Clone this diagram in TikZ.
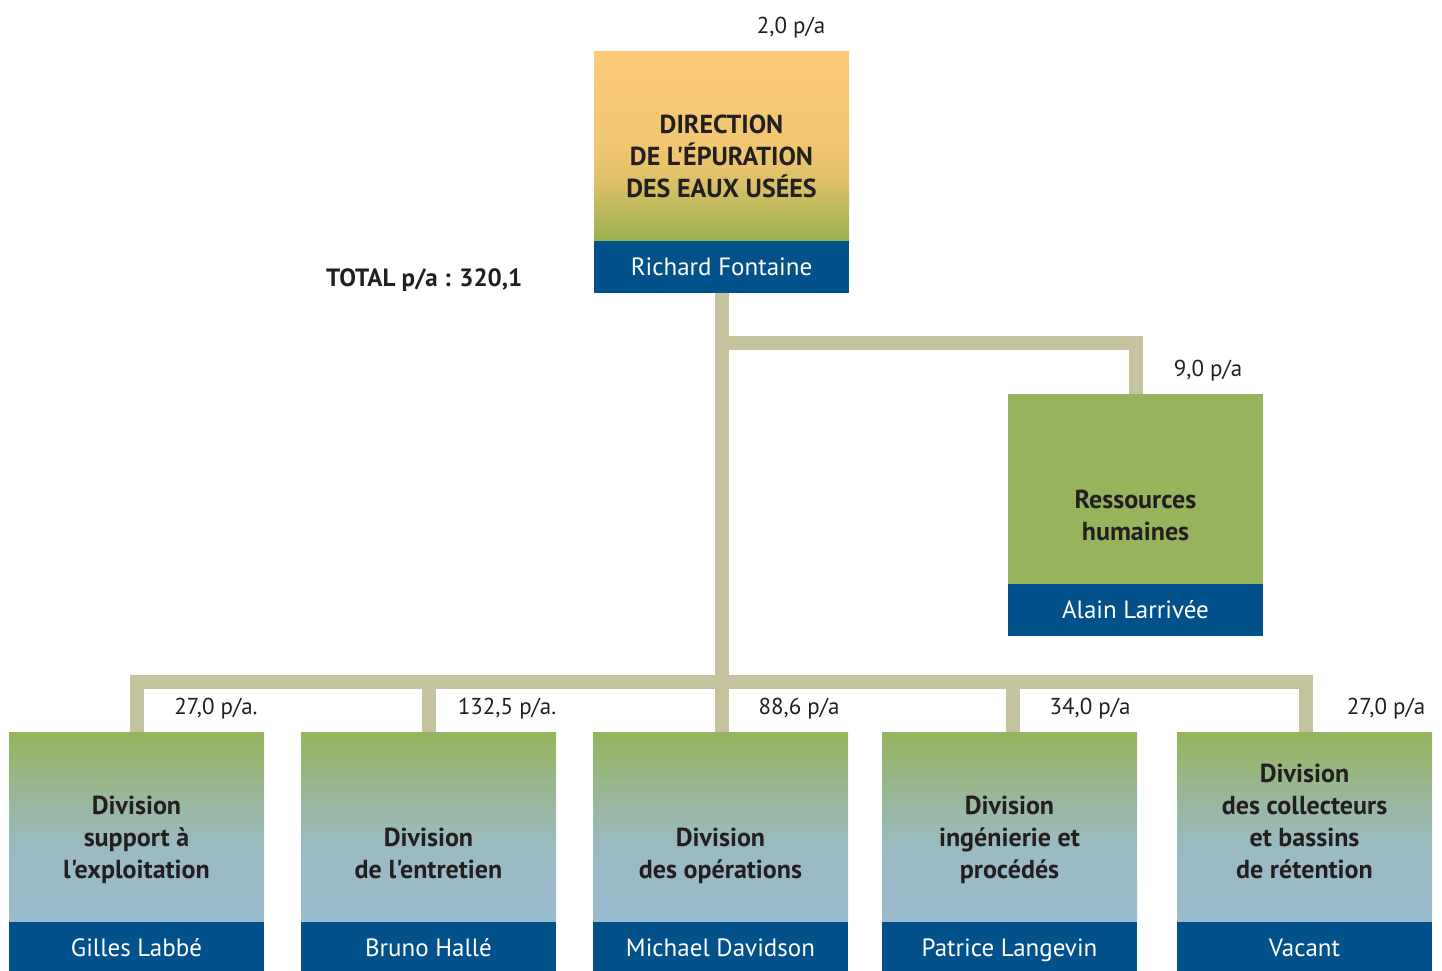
\documentclass[tikz,border=0pt]{standalone}
\usepackage{fontspec}
\setmainfont{PT Sans}[Ligatures=TeXOff]
\definecolor{bandblue}{HTML}{02518B}
\definecolor{conncol}{HTML}{C5C29E}
\definecolor{textdark}{HTML}{231F20}
\definecolor{hrgreen}{HTML}{97B35C}
\definecolor{dA}{HTML}{98B04E}
\definecolor{dB}{HTML}{B8B75A}
\definecolor{dC}{HTML}{D9BF66}
\definecolor{dD}{HTML}{F0C670}
\definecolor{dE}{HTML}{FCCA77}
\definecolor{bA}{HTML}{9BBBD0}
\definecolor{bB}{HTML}{9ABAC2}
\definecolor{bC}{HTML}{99B8A4}
\definecolor{bD}{HTML}{97B67F}
\definecolor{bE}{HTML}{96B45D}
\pgfdeclareverticalshading{dirshade}{100bp}{color(0bp)=(dA); color(25bp)=(dA); color(31.8bp)=(dB); color(39.7bp)=(dC); color(49bp)=(dD); color(75bp)=(dE); color(100bp)=(dE)}
\pgfdeclareverticalshading{divshade}{100bp}{color(0bp)=(bA); color(25bp)=(bA); color(45bp)=(bB); color(55bp)=(bC); color(65bp)=(bD); color(75bp)=(bE); color(100bp)=(bE)}
\tikzset{
  conn/.style={draw=conncol, line width=14pt},
  upper/.style={minimum width=255pt, minimum height=190pt, inner sep=0pt, outer sep=0pt, anchor=north west},
  dirbox/.style={upper, shading=dirshade},
  hrbox/.style={upper, fill=hrgreen},
  divbox/.style={upper, shading=divshade},
  band/.style={fill=bandblue, minimum width=255pt, minimum height=52pt, inner sep=0pt, outer sep=0pt, anchor=north, text=white, text height=19pt, text depth=3pt, font=\fontsize{25}{28}\selectfont},
  title/.style={align=center, anchor=south, inner sep=0pt, text depth=0pt, font=\bfseries\fontsize{26}{32}\selectfont, text=textdark},
  pa/.style={font=\fontsize{23}{26}\selectfont, text=textdark, inner sep=0pt, text height=16pt, text depth=5pt}
}
\begin{document}
\begin{tikzpicture}[x=1pt,y=-1pt]
\useasboundingbox (0,0) rectangle (1442,970);
% boxes
\node[dirbox] (dir) at (594,51) {};
\node[band] (dirname) at (dir.south) {Richard Fontaine};
\node[title] (dirt) at ([yshift=43pt]dir.south) {DIRECTION\\DE L'ÉPURATION\\DES EAUX USÉES};
\node[hrbox] (hr) at (1008,394) {};
\node[band] (hrname) at (hr.south) {Alain Larrivée};
\node[title] (hrt) at ([yshift=43pt]hr.south) {Ressources\\humaines};
\node[divbox] (d1) at (9,732) {};
\node[divbox] (d2) at (301,732) {};
\node[divbox] (d3) at (593,732) {};
\node[divbox] (d4) at (882,732) {};
\node[divbox] (d5) at (1177,732) {};
\node[band] (n1) at (d1.south) {Gilles Labbé};
\node[band] (n2) at (d2.south) {Bruno Hallé};
\node[band] (n3) at (d3.south) {Michael Davidson};
\node[band] (n4) at (d4.south) {Patrice Langevin};
\node[band] (n5) at (d5.south) {Vacant};
\node[title] (t1) at ([yshift=43pt]d1.south) {Division\\support à\\l'exploitation};
\node[title] (t2) at ([yshift=43pt]d2.south) {Division\\de l'entretien};
\node[title] (t3) at ([yshift=43pt]d3.south) {Division\\des opérations};
\node[title] (t4) at ([yshift=43pt]d4.south) {Division\\ingénierie et\\procédés};
\node[title] (t5) at ([yshift=43pt]d5.south) {Division\\des collecteurs\\et bassins\\de rétention};
% connectors
\coordinate (bus) at (721,682);
\coordinate (hrj) at (721,343);
\draw[conn] (dirname.south) -- (dirname.south |- d3.north);
\draw[conn] (hrj) -| (hr.north);
\draw[conn] (d1.north) |- ([xshift=1.5pt]d5.north |- bus) -- ([xshift=1.5pt]d5.north);
\draw[conn] (d2.north) -- (d2.north |- bus);
\draw[conn] ([xshift=3.5pt]d4.north) -- ([xshift=3.5pt]d4.north |- bus);
% labels
\node[pa] (l0) at (791,28) {2,0 p/a};
\node[pa, anchor=west, font=\bfseries\fontsize{25}{28}\selectfont] (tot) at (326,281) {TOTAL p/a : 320,1};
\node[pa] (lhr) at (1208,371) {9,0 p/a};
\node[pa] (l1) at (216,709) {27,0 p/a.};
\node[pa] (l2) at (507,709) {132,5 p/a.};
\node[pa] (l3) at (799,709) {88,6 p/a};
\node[pa] (l4) at (1090,709) {34,0 p/a};
\node[pa] (l5) at (1386,709) {27,0 p/a};
\end{tikzpicture}
\end{document}
